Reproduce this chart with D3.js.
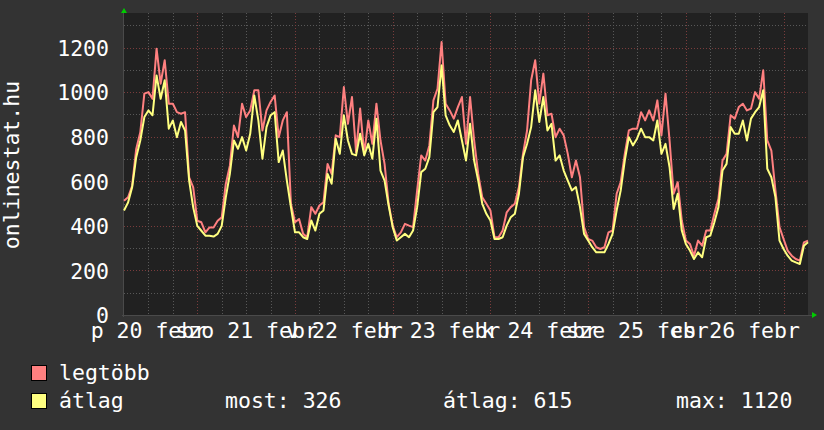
<!DOCTYPE html>
<html><head><meta charset="utf-8">
<script src="https://cdn.jsdelivr.net/npm/d3@7"></script>
<style>
html,body{margin:0;padding:0;background:#333333;}
text{font-family:"DejaVu Sans Mono",monospace;fill:#ffffff;}
</style></head>
<body>
<svg id="c" width="824" height="430"></svg>
<script>
// ---- data ----
const startTime = new Date(2015, 1, 20, 6, 0, 0); // first sample, hourly steps
const maxValues = [513,528,580,745,820,993,1000,970,1195,1038,1143,948,948,910,903,910,618,573,423,416,371,393,393,423,438,588,670,850,798,948,888,918,1008,1008,828,918,956,985,798,873,910,499,416,431,364,349,484,454,491,506,678,633,806,798,1023,858,978,731,926,723,873,768,948,783,678,499,401,349,371,409,401,394,559,716,693,761,963,1015,1225,948,918,881,933,978,768,978,783,633,528,499,469,349,349,379,461,484,499,574,723,828,1053,1143,948,1083,896,903,798,836,806,723,618,693,618,394,341,334,304,296,304,371,379,544,596,723,828,836,836,910,873,918,873,963,806,993,783,544,596,424,334,319,266,334,311,379,379,454,521,693,723,896,881,933,948,918,926,1000,970,1098,783,738,559,394,341,289,266,251,244,326,334];
const avgValues = [469,505,573,708,783,888,918,896,1075,970,1053,836,873,798,866,828,603,483,400,378,356,356,352,364,400,528,633,783,746,798,738,813,985,873,701,843,896,910,686,738,603,484,371,371,349,341,424,379,454,469,633,589,791,723,896,783,723,716,813,716,768,701,881,648,603,491,394,334,349,364,349,379,484,641,656,708,910,933,1120,896,851,821,873,783,693,858,693,603,499,454,424,341,341,349,401,439,454,544,708,768,843,1008,866,978,828,858,693,716,648,603,559,574,484,364,334,304,281,281,281,319,364,469,559,693,798,761,791,836,798,798,783,873,723,768,663,476,544,379,319,289,251,281,259,349,356,416,484,648,678,843,813,813,873,783,881,910,933,1008,656,618,529,334,296,266,244,236,229,311,326];
const yTicks = [0,200,400,600,800,1000,1200];
const dayLabels = ["p 20 febr","szo 21 febr","v 22 febr","h 23 febr","k 24 febr","sze 25 febr","cs 26 febr"];
const dayNoons = [new Date(2015,1,20,12),new Date(2015,1,21,12),new Date(2015,1,22,12),new Date(2015,1,23,12),new Date(2015,1,24,12),new Date(2015,1,25,12),new Date(2015,1,26,12)];
const legendItems = ["legtöbb","átlag"];
const statTexts = ["most: 326","átlag: 615","max: 1120"];
const axisTitle = "onlinestat.hu";

// ---- layout ----
const L = 124, R = 808, T = 13, B = 315;
const svg = d3.select("#c");
const endTime = new Date(startTime.getTime() + (maxValues.length - 1) * 3600000);
const x = d3.scaleTime().domain([startTime, endTime]).range([L, R]);
const y = d3.scaleLinear().domain([0, 1355]).range([B, T]);
const times = maxValues.map((_, i) => new Date(startTime.getTime() + i * 3600000));

svg.append("rect").attr("x",0).attr("y",0).attr("width",824).attr("height",430).attr("fill","#333333");
svg.append("rect").attr("x",L).attr("y",T).attr("width",R-L).attr("height",B-T).attr("fill","#212121");

// grid
const g = svg.append("g");
const hTicks = d3.range(100, 1355, 100);
g.selectAll("line.hg").data(hTicks).enter().append("line")
  .attr("x1",L).attr("x2",R).attr("y1",d=>Math.round(y(d))+0.5).attr("y2",d=>Math.round(y(d))+0.5)
  .attr("stroke",d=>d%200===0?"#7a3c3c":"#585858").attr("stroke-width",1).attr("stroke-dasharray","1,2");
const vTicks = d3.timeHour.every(6).range(new Date(startTime.getTime()+1), endTime);
g.selectAll("line.vg").data(vTicks).enter().append("line")
  .attr("y1",T).attr("y2",B).attr("x1",d=>Math.round(x(d))+0.5).attr("x2",d=>Math.round(x(d))+0.5)
  .attr("stroke",d=>d.getHours()===0?"#7a3c3c":"#585858").attr("stroke-width",1).attr("stroke-dasharray","1,2");

// axes lines
svg.append("line").attr("x1",L-0.5).attr("x2",L-0.5).attr("y1",T-2).attr("y2",B+2).attr("stroke","#4a4a4a");
svg.append("line").attr("x1",L-2).attr("x2",R+4).attr("y1",B+0.5).attr("y2",B+0.5).attr("stroke","#4a4a4a");
svg.append("path").attr("d",`M${L-3},${T} L${L+3},${T} L${L},${T-5} Z`).attr("fill","#00cc00");
svg.append("path").attr("d",`M${R+4},${B-3} L${R+4},${B+3} L${R+9},${B} Z`).attr("fill","#00cc00");

// series
const line = d3.line().x((d,i)=>x(times[i])).y(d=>y(d)).curve(d3.curveLinear);
svg.append("path").datum(maxValues).attr("d",line).attr("fill","none").attr("stroke","#ff8080").attr("stroke-width",2).attr("stroke-linejoin","round");
svg.append("path").datum(avgValues).attr("d",line).attr("fill","none").attr("stroke","#ffff80").attr("stroke-width",2).attr("stroke-linejoin","round");

// y axis
const ya = svg.append("g").attr("transform",`translate(${L},0)`)
  .call(d3.axisLeft(y).tickValues(yTicks).tickFormat(d3.format("d")).tickSize(0).tickPadding(15));
ya.select(".domain").remove();
ya.selectAll("text").style("font-family","DejaVu Sans Mono").style("font-size","21.5px").attr("fill","#fff").attr("dy","0.36em");

// x axis
const xa = svg.append("g").attr("transform",`translate(0,${B})`)
  .call(d3.axisBottom(x).tickValues(dayNoons).tickFormat((d,i)=>dayLabels[i]).tickSize(0).tickPadding(8));
xa.select(".domain").remove();
xa.selectAll("text").style("font-family","DejaVu Sans Mono").style("font-size","21.5px").attr("fill","#fff").attr("dy","0.71em");

// axis title
svg.append("text").attr("transform","translate(19,165) rotate(-90)").attr("text-anchor","middle")
  .style("font-size","21.5px").text(axisTitle);

// legend
const legColors = ["#ff8080","#ffff80"];
legendItems.forEach((t,i)=>{
  svg.append("rect").attr("x",31.5).attr("y",365.5+i*28).attr("width",15).attr("height",15)
    .attr("fill",legColors[i]).attr("stroke","#000").attr("stroke-width",1);
  svg.append("text").attr("x",59).attr("y",380+i*28).style("font-size","21.5px").text(t);
});
const statX = [225, 443, 676];
statTexts.forEach((t,i)=>{
  svg.append("text").attr("x",statX[i]).attr("y",408).style("font-size","21.5px").text(t);
});
</script>
</body></html>
